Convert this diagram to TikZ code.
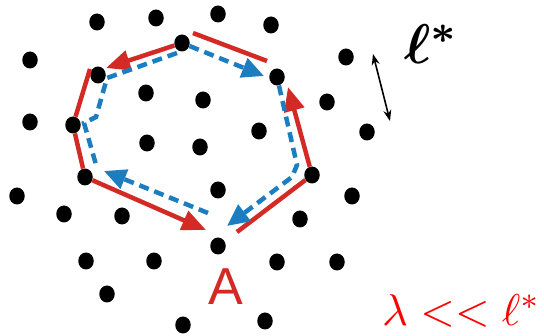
\documentclass[tikz,border=0pt]{standalone}
\usepackage{amsmath,amssymb}
\usepackage{xcolor}
\usepackage{fontspec}
\newfontfamily\labelsans{Liberation Sans}
\usetikzlibrary{arrows.meta,shapes.geometric}

\definecolor{pathred}{RGB}{212,42,38}
\definecolor{pathblue}{RGB}{28,126,192}

\begin{document}
\begin{tikzpicture}[
    x=1pt,
    y=-1pt,
    dot/.style={
        ellipse,
        fill=black,
        inner sep=0pt,
        minimum width=15.5pt,
        minimum height=17pt
    },
    redline/.style={
        draw,
        line width=4.5pt,
        color=pathred
    },
    redarrow/.style={
        redline,
        -{Triangle[length=24pt,width=20pt]}
    },
    blueline/.style={
        draw,
        line width=4.5pt,
        color=pathblue,
        dash pattern=on 10pt off 6pt
    },
    bluearrow/.style={
        blueline,
        -{Triangle[length=22pt,width=20pt]}
    },
    scalebar/.style={
        draw,
        line width=1.6pt,
        {Stealth[length=11pt,width=8pt]}-{Stealth[length=11pt,width=8pt]}
    }
]
    \useasboundingbox (0,0) rectangle (544,336);

    % --- Lattice of dots ---
    \foreach \x/\y [count=\i] in {97/22, 156/18, 218/14, 271/25, 30/60, 182/43,
        98/75, 277/77, 346/57, 146/93, 203/100, 327/102, 30/122, 73/125,
        147/143, 200/147, 259/131, 367/132, 85/177, 17/196, 64/214, 122/216,
        218/190, 312/175, 352/196, 300/219, 218/246, 86/261, 154/261,
        277/262, 337/262, 107/294, 183/325, 265/321}
        \node [dot] (d\i) at (\x,\y) {};

    % --- Free ends of the connectors ---
    \coordinate (r1) at (106,68);
    \coordinate (r2a) at (193,33);
    \coordinate (r2b) at (267,61);
    \coordinate (r3) at (288,87);
    \coordinate (r4) at (237,232);
    \coordinate (r5) at (206,230);
    \coordinate (r6) at (90,69);
    \coordinate (b1) at (264,76);
    \coordinate (b2a) at (177,53);
    \coordinate (b2b) at (107,78);
    \coordinate (b2c) at (96,117);
    \coordinate (b2d) at (84,123);
    \coordinate (b2e) at (97,168);
    \coordinate (b3a) at (208,213);
    \coordinate (b3b) at (104,171);
    \coordinate (b4a) at (297,165);
    \coordinate (b4b) at (292,177);
    \coordinate (b4c) at (227,226);
    \coordinate (s1) at (373,54);
    \coordinate (s2) at (390,121);

    % --- Outer path (red) ---
    \path [redarrow] (d6) -- (r1);
    \path [redline] (r2a) -- (r2b);
    \path [redarrow] (d24) -- (r3);
    \path [redline] (d24) -- (r4);
    \path [redarrow] (d19) -- (r5);
    \path [redline] (r6) -- (d14) -- (d19);

    % --- Inner path (blue, dashed) ---
    \path [bluearrow] (d6) -- (b1);
    \path [blueline] (b2a) -- (b2b) -- (b2c) -- (b2d) -- (b2e);
    \path [bluearrow] (b3a) -- (b3b);
    \path [bluearrow] (d8) -- (b4a) -- (b4b) -- (b4c);

    % --- Length scale ---
    \path [scalebar] (s1) -- (s2);

    % --- Labels ---
    \node [text=pathred, font=\labelsans\fontsize{52}{52}\selectfont] (lblA) at (226,287) {A};
    \node [anchor=base west, inner sep=0pt] (lblell) at (404,64) {\scalebox{5.6}{\boldmath$\ell^*$}};
    \node [anchor=base west, inner sep=0pt, text=red] (lblratio) at (382,326) {\scalebox{4.45}{$\lambda << \ell^*$}};

\end{tikzpicture}
\end{document}
